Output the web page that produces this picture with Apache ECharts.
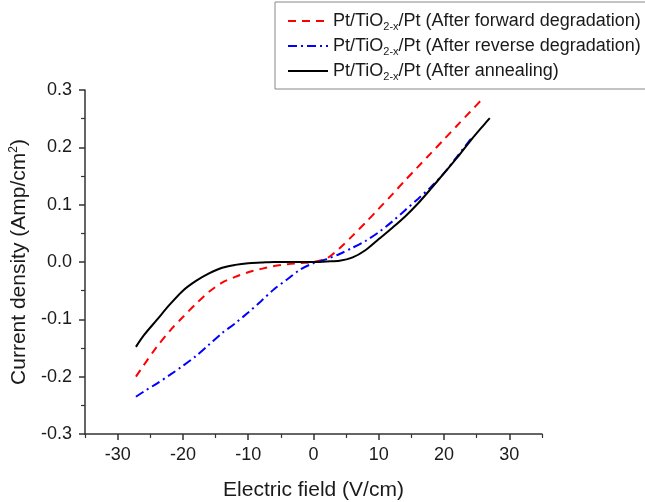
<!DOCTYPE html>
<html><head><meta charset="utf-8">
<script src="https://cdn.jsdelivr.net/npm/echarts@6/dist/echarts.min.js"></script>
<style>html,body{margin:0;padding:0;background:#fff}#c{width:645px;height:502px}</style>
</head><body><div id="c"></div>
<script>
const xTicks = [-30,-20,-10,0,10,20,30];
const forwardX = [-27.2,-26,-24,-22,-20,-18,-16,-14,-12,-10,-8,-6,-4,-2,0,2,4,6,8,10,12,14,16,18,20,22,24,26];
const forwardY = [-0.200,-0.180,-0.148,-0.120,-0.096,-0.073,-0.052,-0.036,-0.026,-0.018,-0.012,-0.007,-0.004,-0.002,0,0.006,0.024,0.046,0.069,0.093,0.117,0.142,0.166,0.190,0.214,0.238,0.262,0.286];
const reverseX = [-27.2,-26,-24,-22,-20,-18,-16,-14,-12,-10,-8,-6,-4,-2,0,2,4,6,8,10,12,14,16,18,20,22,24.2];
const reverseY = [-0.235,-0.226,-0.212,-0.197,-0.181,-0.164,-0.144,-0.124,-0.107,-0.088,-0.068,-0.047,-0.030,-0.013,-0.002,0.005,0.014,0.025,0.037,0.052,0.070,0.090,0.110,0.131,0.155,0.184,0.216];
const annealX = [-27.2,-26,-24,-22,-20,-18,-16,-14,-12,-10,-8,-6,-4,-2,0,2,4,6,8,10,12,14,16,18,20,22,24,26,27];
const annealY = [-0.148,-0.128,-0.101,-0.074,-0.050,-0.033,-0.020,-0.010,-0.005,-0.002,-0.001,0,0,0,0,0.001,0.002,0.008,0.021,0.040,0.059,0.079,0.102,0.128,0.155,0.182,0.211,0.238,0.251];
const names = ['forward','reverse','anneal'];
const labels = {forward:'After forward degradation', reverse:'After reverse degradation', anneal:'After annealing'};

const zip = (xs, ys) => xs.map((x,i)=>[x, ys[i]]);
const chart = echarts.init(document.getElementById('c'), null, {renderer:'canvas'});
const font = '"Liberation Sans", Arial, sans-serif';
const axisCol = '#333';
const txt = '#1a1a1a';
chart.setOption({
  animation:false,
  grid:{left:85, right:103, top:90, bottom:68, containLabel:false, outerBoundsMode:'none'},
  legend:{
    orient:'vertical', left:275, top:2,
    padding:[10,30,7,12], itemGap:5, itemWidth:40, itemHeight:14,
    borderColor:'#888', borderWidth:1, backgroundColor:'#fff',
    data:names,
    itemStyle:{opacity:0},
    formatter: n => '{t|Pt/TiO}{s|2-x}{t|/Pt (' + labels[n] + ')}',
    textStyle:{fontFamily:font, color:txt,
      rich:{t:{fontSize:18, lineHeight:20, fontFamily:font, color:txt}, s:{fontSize:11, fontFamily:font, color:txt, padding:[11,0,0,0]}}}
  },
  xAxis:[{
    type:'value', min:-35, max:35, interval:10,
    name:'Electric field (V/cm)', nameLocation:'middle', nameGap:46,
    nameTextStyle:{fontSize:21, fontFamily:font, color:txt},
    axisLine:{show:true, onZero:false, lineStyle:{color:axisCol, width:1.5}},
    axisTick:{show:true, length:6, lineStyle:{color:axisCol, width:1.5}, customValues:xTicks},
    splitLine:{show:false},
    axisLabel:{fontSize:18, fontFamily:font, color:txt, margin:12, customValues:xTicks,
      formatter: v => String(v)}
  },{
    type:'value', min:-35, max:35, interval:10, position:'bottom', gridIndex:0, offset:0,
    axisLine:{show:false, onZero:false},
    axisTick:{show:true, length:4, lineStyle:{color:axisCol, width:1.2}},
    axisLabel:{show:false}, splitLine:{show:false}
  }],
  yAxis:{
    type:'value', min:-0.3, max:0.3, interval:0.1,
    name:'{t|Current density (Amp/cm}{s|2}{t|)}', nameLocation:'middle', nameGap:52, nameRotate:90,
    nameTextStyle:{fontSize:21, fontFamily:font, color:txt,
      rich:{t:{fontSize:21, fontFamily:font, color:txt}, s:{fontSize:12, fontFamily:font, color:txt, padding:[0,0,12,0]}}},
    axisLine:{show:true, onZero:false, lineStyle:{color:axisCol, width:1.5}},
    axisTick:{show:true, length:6, lineStyle:{color:axisCol, width:1.5}},
    minorTick:{show:true, splitNumber:2, length:4, lineStyle:{color:axisCol, width:1.2}},
    splitLine:{show:false},
    axisLabel:{fontSize:18, fontFamily:font, color:txt, margin:13, formatter: v => v.toFixed(1)}
  },
  series:[
    {name:'forward', type:'line', data:zip(forwardX, forwardY), smooth:0.3, showSymbol:false, symbol:'none',
      lineStyle:{color:'#ff0000', width:2, type:[8,6]}, itemStyle:{color:'#ff0000'}},
    {name:'reverse', type:'line', data:zip(reverseX, reverseY), smooth:0.3, showSymbol:false, symbol:'none',
      lineStyle:{color:'#0000ff', width:2, type:[9,4,2,4]}, itemStyle:{color:'#0000ff'}},
    {name:'anneal', type:'line', data:zip(annealX, annealY), smooth:0.3, showSymbol:false, symbol:'none',
      lineStyle:{color:'#000000', width:2}, itemStyle:{color:'#000000'}}
  ]
});
</script></body></html>
